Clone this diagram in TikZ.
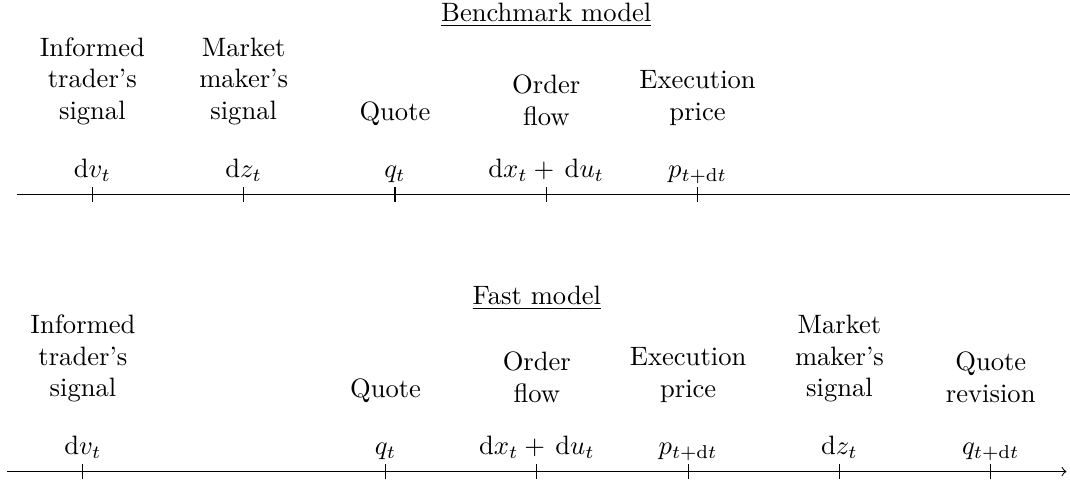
\documentclass[tikz,border=0pt]{standalone}
\usetikzlibrary{calc}
\begin{document}
\begin{tikzpicture}[
  evtext/.style={anchor=south, align=center, inner sep=0.333em},
  evmath/.style={anchor=base, inner sep=0pt},
  heading/.style={anchor=base, inner sep=0pt},
  tickmark/.style={line width=0.4pt}
]
\useasboundingbox (0,0) rectangle (14.144,6.411);
\clip (0,0) rectangle (14.144,6.411);

% ---------- Benchmark model ----------
\begin{scope}[shift={(0.221,3.840)}]
  \coordinate (bs) at (0,0);
  \coordinate (be) at (14,0);
  \draw (bs) -- (be);
  \foreach \i/\x in {1/1,2/3,3/5,4/7,5/9} {
    \coordinate (b\i) at (\x,0);
    \draw[tickmark] ([yshift=1mm]b\i) -- ([yshift=-1mm]b\i);
  }
  \node[evmath] (bm1) at ([yshift=2.2mm]b1) {$\mathrm{d}v_t$};
  \node[evmath] (bm2) at ([yshift=2.2mm]b2) {$\mathrm{d}z_t$};
  \node[evmath] (bm3) at ([yshift=2.2mm]b3) {$q_t$};
  \node[evmath] (bm4) at ([yshift=2.2mm]b4) {$\mathrm{d}x_t + \,\mathrm{d}u_t$};
  \node[evmath] (bm5) at ([yshift=2.2mm]b5) {$p_{t+\mathrm{d}t}$};
  \node[evtext] (bt1) at ([yshift=7.9mm]b1) {Informed\\trader's\\signal};
  \node[evtext] (bt2) at ([yshift=7.9mm]b2) {Market\\maker's\\signal};
  \node[evtext] (bt3) at ([yshift=7.9mm]b3) {Quote};
  \node[evtext] (bt4) at ([yshift=7.9mm]b4) {Order\\flow};
  \node[evtext] (bt5) at ([yshift=7.9mm]b5) {Execution\\price};
  \node[heading] (bh) at ([yshift=22.9mm]b4) {\underline{Benchmark model}};
\end{scope}

% ---------- Fast model ----------
\begin{scope}[shift={(0.0965,0.178)}]
  \coordinate (fs) at (0,0);
  \coordinate (fe) at (14,0);
  \draw[->] (fs) -- (fe);
  \foreach \i/\x in {1/1,2/5,3/7,4/9,5/11,6/13} {
    \coordinate (f\i) at (\x,0);
    \draw[tickmark] ([yshift=1mm]f\i) -- ([yshift=-1mm]f\i);
  }
  \node[evmath] (fm1) at ([yshift=2.2mm]f1) {$\mathrm{d}v_t$};
  \node[evmath] (fm2) at ([yshift=2.2mm]f2) {$q_t$};
  \node[evmath] (fm3) at ([yshift=2.2mm]f3) {$\mathrm{d}x_t + \,\mathrm{d}u_t$};
  \node[evmath] (fm4) at ([yshift=2.2mm]f4) {$p_{t+\mathrm{d}t}$};
  \node[evmath] (fm5) at ([yshift=2.2mm]f5) {$\mathrm{d}z_t$};
  \node[evmath] (fm6) at ([yshift=2.2mm]f6) {$q_{t+\mathrm{d}t}$};
  \node[evtext] (ft1) at ([yshift=7.9mm]f1) {Informed\\trader's\\signal};
  \node[evtext] (ft2) at ([yshift=7.9mm]f2) {Quote};
  \node[evtext] (ft3) at ([yshift=7.9mm]f3) {Order\\flow};
  \node[evtext] (ft4) at ([yshift=7.9mm]f4) {Execution\\price};
  \node[evtext] (ft5) at ([yshift=7.9mm]f5) {Market\\maker's\\signal};
  \node[evtext] (ft6) at ([yshift=7.9mm]f6) {Quote\\revision};
  \node[heading] (fh) at ([yshift=22.1mm]f3) {\underline{Fast model}};
\end{scope}
\end{tikzpicture}
\end{document}
